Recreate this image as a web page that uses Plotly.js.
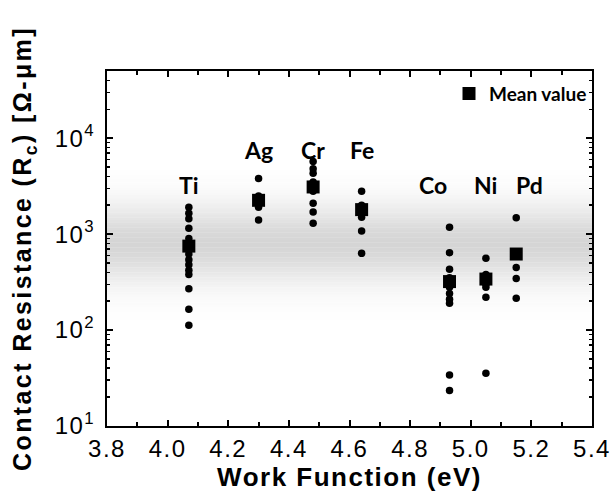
<!DOCTYPE html>
<html>
<head>
<meta charset="utf-8">
<script src="https://cdn.plot.ly/plotly-3.0.1.min.js"></script>
<style>
html,body{margin:0;padding:0;background:#fff;}
#chart{width:611px;height:495px;}
#chart .xtitle { letter-spacing: 1.5px; }
#chart .ytitle { letter-spacing: 2.4px; }
#chart .xtick text, #chart .ytick text { letter-spacing: 1.5px; }
</style>
</head>
<body>
<div id="chart"></div>
<script>
// ---- data ----
const metals = ['Ti', 'Ag', 'Cr', 'Fe', 'Co', 'Ni', 'Pd'];
const workFunction = [4.07, 4.30, 4.48, 4.64, 4.93, 5.05, 5.15];
const tiRc = [1900, 1650, 1450, 1150, 900, 800, 700, 620, 540, 480, 420, 380, 270, 165, 112];
const agRc = [3800, 2500, 2100, 1900, 1400];
const crRc = [5700, 4800, 4300, 3500, 2800, 2100, 1700, 1300];
const feRc = [2800, 2000, 1700, 1500, 1080, 630];
const coRc = [1180, 640, 430, 350, 280, 240, 210, 190, 34, 23.5];
const niRc = [560, 380, 300, 280, 220, 35.5];
const pdRc = [1480, 450, 345, 214];
const meanRc = [750, 2250, 3100, 1800, 320, 340, 620];
const xTickVals = [3.8, 4.0, 4.2, 4.4, 4.6, 4.8, 5.0, 5.2, 5.4];
const xTickText = ['3.8', '4.0', '4.2', '4.4', '4.6', '4.8', '5.0', '5.2', '5.4'];
const yTickVals = [10, 100, 1000, 10000];
const yTickText = ['10<sup>1</sup>', '10<sup>2</sup>', '10<sup>3</sup>', '10<sup>4</sup>'];

// ---- label placement (layout, not data) ----
const labelX = [4.07, 4.30, 4.48, 4.64, 4.875, 5.05, 5.195];
const labelLogY = [3.51, 3.875, 3.875, 3.875, 3.51, 3.51, 3.51];

const allSeries = [tiRc, agRc, crRc, feRc, coRc, niRc, pdRc];
const px = [], py = [];
allSeries.forEach((arr, i) => arr.forEach(v => { px.push(workFunction[i]); py.push(v); }));

// minor log ticks
const yMinor = [];
[10, 100, 1000, 10000].forEach(d => { for (let k = 2; k <= 9; k++) yMinor.push(d * k); });

const traces = [
  {x: px, y: py, type: 'scatter', mode: 'markers', showlegend: false,
   marker: {symbol: 'circle', size: 7.5, color: '#000'}},
  {x: workFunction, y: meanRc, type: 'scatter', mode: 'markers', name: 'Mean value',
   marker: {symbol: 'square', size: 13, color: '#000'}}
];

// grey gradient band (background decoration)
const shapes = [];
const plotTop = 71, plotBot = 426, H = plotBot - plotTop;
const bandTopPx = 170, bandBotPx = 320, bandCenter = 244, bandW = 38;
const N = 60;
for (let i = 0; i < N; i++) {
  const p0 = bandTopPx + (bandBotPx - bandTopPx) * i / N;
  const p1 = bandTopPx + (bandBotPx - bandTopPx) * (i + 1) / N;
  const mid = (p0 + p1) / 2;
  const t = Math.exp(-Math.pow((mid - bandCenter) / bandW, 2));
  const c = Math.round(255 - 42 * t);
  shapes.push({type: 'rect', xref: 'paper', yref: 'paper', x0: 0, x1: 1,
    y0: (plotBot - p1) / H, y1: (plotBot - p0) / H + 0.001,
    fillcolor: `rgb(${c},${c},${c})`, line: {width: 0}, layer: 'below'});
}

const annotations = metals.map((m, i) => ({
  x: labelX[i], y: labelLogY[i], xref: 'x', yref: 'y', text: m, showarrow: false,
  font: {family: 'Lato, "Open Sans", sans-serif', size: 23, color: '#000', weight: 'bold'},
  xanchor: 'center', yanchor: 'middle'
}));

const layout = {
  width: 611, height: 495,
  margin: {l: 107, r: 19, t: 71, b: 69},
  paper_bgcolor: '#fff', plot_bgcolor: '#fff',
  showlegend: true,
  legend: {x: 1.0, y: 0.99, xanchor: 'right', yanchor: 'top', bgcolor: 'rgba(0,0,0,0)',
    font: {family: 'Lato, sans-serif', size: 19, color: '#000', weight: 'bold'},
    itemwidth: 30, tracegroupgap: 0},
  xaxis: {
    range: [3.8, 5.4], tickmode: 'array', tickvals: xTickVals, ticktext: xTickText,
    ticks: 'inside', ticklen: 6, tickwidth: 2, tickcolor: '#000',
    showline: true, linewidth: 2, linecolor: '#000', mirror: 'allticks',
    showgrid: false, zeroline: false,
    tickfont: {family: '"Liberation Sans", Arial, sans-serif', size: 24, color: '#000'},
    minor: {tickmode: 'array', tickvals: [3.9, 4.1, 4.3, 4.5, 4.7, 4.9, 5.1, 5.3], ticks: 'inside', ticklen: 4, tickwidth: 2, tickcolor: '#000', showgrid: false},
    title: {text: 'Work Function (eV)', standoff: 0,
      font: {family: '"Liberation Sans", Arial, sans-serif', size: 26, color: '#000', weight: 'bold'}}
  },
  yaxis: {
    type: 'log', range: [1, 4.7], tickmode: 'array', tickvals: yTickVals, ticktext: yTickText,
    ticks: 'inside', ticklen: 6, tickwidth: 2, tickcolor: '#000',
    showline: true, linewidth: 2, linecolor: '#000', mirror: 'allticks',
    showgrid: false, zeroline: false, ticklabelstandoff: 5,
    tickfont: {family: '"Liberation Sans", Arial, sans-serif', size: 24, color: '#000'},
    minor: {tickmode: 'array', tickvals: yMinor, ticks: 'inside', ticklen: 3, tickwidth: 1.5, tickcolor: '#000', showgrid: false},
    title: {text: 'Contact Resistance (R<sub>c</sub>) [Ω-μm]', standoff: 20,
      font: {family: '"Liberation Sans", Arial, sans-serif', size: 25, color: '#000', weight: 'bold'}}
  },
  shapes: shapes,
  annotations: annotations
};

Plotly.newPlot('chart', traces, layout, {displayModeBar: false, staticPlot: true});
</script>
</body>
</html>
